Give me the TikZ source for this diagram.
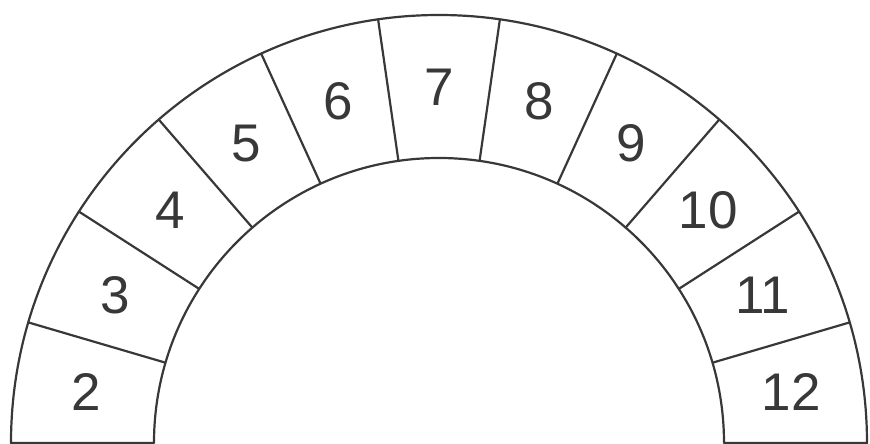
\documentclass[tikz,border=0pt]{standalone}
\usepackage{fontspec}
\setmainfont{Liberation Sans}
\usepackage{tikz}
\usetikzlibrary{calc}

\begin{document}
\begin{tikzpicture}[
  x=1pt, y=1pt,
  stone/.style={draw=black!78, line width=2.2pt, line join=round},
  num/.style={font=\fontsize{53}{55}\selectfont, text=black!78, inner sep=0pt}]
\useasboundingbox (-439,-1) rectangle (431,443);
\def\rin{285}
\def\rout{428}
% arch outline
\draw[stone] (-\rout,0) arc[start angle=180, end angle=0, radius=\rout]
  -- (\rin,0) arc[start angle=0, end angle=180, radius=\rin] -- cycle;
% joints between the stones
\foreach \k in {1,...,10}
  \draw[stone] ({180*\k/11}:\rin) -- ({180*\k/11}:\rout);
% stone numbers
\foreach \n [count=\k from 0] in {12,11,...,2}
  \node[num] (v\n) at ({180*(\k+0.5)/11}:356) {\n};
\end{tikzpicture}
\end{document}
